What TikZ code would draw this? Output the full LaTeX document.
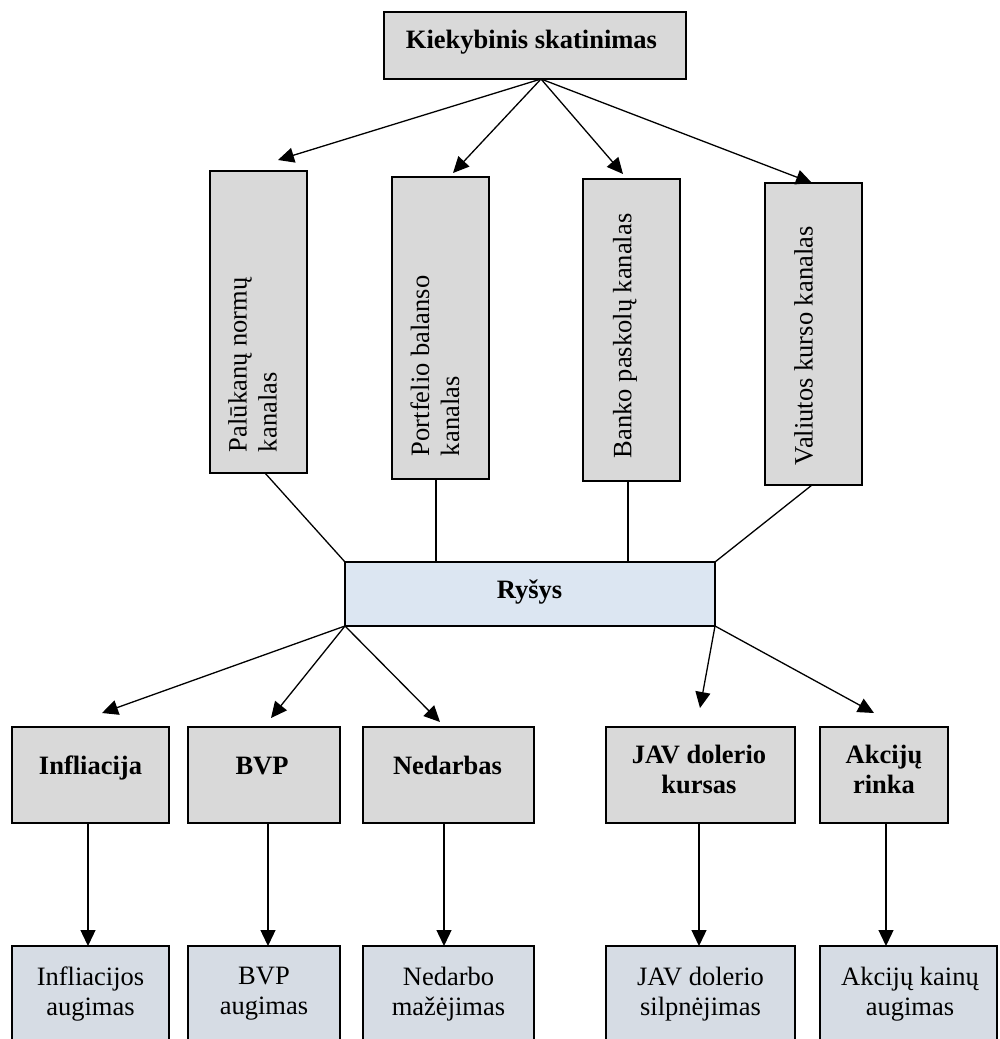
\documentclass[tikz,border=0pt]{standalone}
\usepackage{fontspec}
\setmainfont{Liberation Serif}
\usetikzlibrary{arrows.meta,calc}
\definecolor{boxgray}{HTML}{D9D9D9}
\definecolor{linkblue}{HTML}{DCE6F2}
\definecolor{resblue}{HTML}{D6DCE4}
\begin{document}
\begin{tikzpicture}[x=1pt,y=-1pt,
  box/.style={draw=black, line width=2.8pt, fill=boxgray, inner sep=0pt, outer sep=0pt},
  linkbox/.style={box, fill=linkblue},
  resbox/.style={box, fill=resblue},
  txt/.style={font=\fontsize{26.5}{30}\selectfont, inner sep=0pt, outer sep=0pt},
  btxt/.style={font=\fontsize{26.5}{30}\selectfont\bfseries, inner sep=0pt, outer sep=0pt},
  vtxt/.style={txt, rotate=90, anchor=west, align=left},
  conn/.style={draw=black, line width=1.3pt},
  arr/.style={conn, -{Triangle[length=16pt,width=15pt]}}
]
\useasboundingbox (0,0) rectangle (999,1039);
\clip (0,0) rectangle (999,1039);

% top box
\node[box, minimum width=302pt, minimum height=67pt] (top) at (535,45.5) {};
\node[btxt, anchor=base] (toptxt) at (531.5,48) {Kiekybinis skatinimas};

% channel boxes
\node[box, minimum width=97pt, minimum height=302pt] (pal) at (258.5,322) {};
\node[box, minimum width=97pt, minimum height=302pt] (port) at (440.5,328) {};
\node[box, minimum width=97pt, minimum height=302pt] (bank) at (631.5,330) {};
\node[box, minimum width=97pt, minimum height=302pt] (val) at (813.5,334) {};
\node[vtxt] (paltxt) at (252.5,452) {Palūkanų normų\\kanalas};
\node[vtxt] (porttxt) at (435,456) {Portfelio balanso\\kanalas};
\node[vtxt] (banktxt) at (625,458) {Banko paskolų kanalas};
\node[vtxt] (valtxt) at (803.5,465) {Valiutos kurso kanalas};

% arrows from top
\coordinate (src) at ($(top.south)+(6,0)$);
\coordinate (t1) at (278,160);
\coordinate (t2) at (453,173);
\coordinate (t3) at (623,174);
\coordinate (t4) at (812,183);
\draw[arr] (src) -- (t1);
\draw[arr] (src) -- (t2);
\draw[arr] (src) -- (t3);
\draw[arr] (src) -- (t4);

% link box
\node[linkbox, minimum width=370pt, minimum height=64pt] (rys) at (530,594) {};
\node[btxt, anchor=base] (rystxt) at (529.5,598) {Ryšys};

\coordinate (pals) at ($(pal.south)+(6.5,0)$);
\coordinate (ports) at ($(port.south)+(-4.5,0)$);
\coordinate (banks) at ($(bank.south)+(-3.5,0)$);
\coordinate (vals) at ($(val.south)+(-1.5,0)$);
\draw[conn] (pals) -- (rys.north west);
\draw[conn] (ports) -- (ports |- rys.north);
\draw[conn] (banks) -- (banks |- rys.north);
\draw[conn] (vals) -- (rys.north east);

% middle boxes
\node[box, minimum width=157pt, minimum height=96pt] (infl) at (90.5,775) {};
\node[box, minimum width=152pt, minimum height=96pt] (bvp) at (264,775) {};
\node[box, minimum width=171pt, minimum height=96pt] (ned) at (448.5,775) {};
\node[box, minimum width=189pt, minimum height=96pt] (jav) at (700.5,775) {};
\node[box, minimum width=128pt, minimum height=96pt] (akc) at (884,775) {};
\node[btxt, anchor=base] (infltxt) at (90.5,774) {Infliacija};
\node[btxt, anchor=base] (bvptxt) at (262,774) {BVP};
\node[btxt, anchor=base] (nedtxt) at (447.5,774) {Nedarbas};
\node[btxt, anchor=north, align=center] (javtxt) at (699,745) {JAV dolerio\\kursas};
\node[btxt, anchor=north, align=center] (akctxt) at (884,745) {Akcijų\\rinka};

\coordinate (t5) at (102,713);
\coordinate (t6) at (271,718);
\coordinate (t7) at (440,722);
\coordinate (t8) at (700,708);
\coordinate (t9) at (874,713);
\draw[arr] (rys.south west) -- (t5);
\draw[arr] (rys.south west) -- (t6);
\draw[arr] (rys.south west) -- (t7);
\draw[arr] (rys.south east) -- (t8);
\draw[arr] (rys.south east) -- (t9);

% result boxes
\node[resbox, minimum width=157pt, minimum height=120pt] (inflr) at (90.5,1006) {};
\node[resbox, minimum width=152pt, minimum height=120pt] (bvpr) at (264,1006) {};
\node[resbox, minimum width=171pt, minimum height=120pt] (nedr) at (448.5,1006) {};
\node[resbox, minimum width=189pt, minimum height=120pt] (javr) at (700.5,1006) {};
\node[resbox, minimum width=177pt, minimum height=120pt] (akcr) at (908.5,1006) {};
\node[txt, anchor=north, align=center] (inflrtxt) at (90.5,967) {Infliacijos\\augimas};
\node[txt, anchor=north, align=center] (bvprtxt) at (264,967.5) {BVP\\augimas};
\node[txt, anchor=north, align=center] (nedrtxt) at (448.5,967) {Nedarbo\\mažėjimas};
\node[txt, anchor=north, align=center] (javrtxt) at (700.5,967) {JAV dolerio\\silpnėjimas};
\node[txt, anchor=north, align=center] (akcrtxt) at (910,967) {Akcijų kainų\\augimas};

\coordinate (v1) at ($(infl.south)+(-2.5,0)$);
\coordinate (v2) at ($(bvp.south)+(4,0)$);
\coordinate (v3) at ($(ned.south)+(-4.5,0)$);
\coordinate (v4) at ($(jav.south)+(-1.5,0)$);
\coordinate (v5) at ($(akc.south)+(2,0)$);
\draw[arr] (v1) -- (v1 |- inflr.north);
\draw[arr] (v2) -- (v2 |- bvpr.north);
\draw[arr] (v3) -- (v3 |- nedr.north);
\draw[arr] (v4) -- (v4 |- javr.north);
\draw[arr] (v5) -- (v5 |- akcr.north);
\end{tikzpicture}
\end{document}
